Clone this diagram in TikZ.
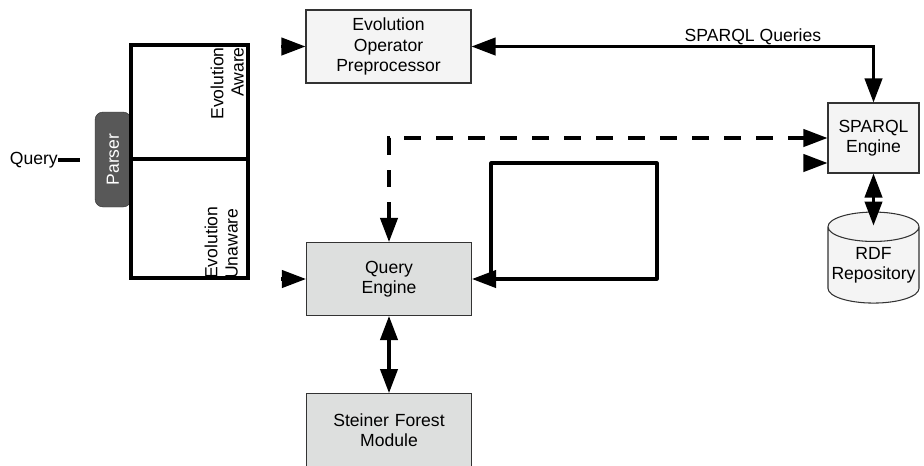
\documentclass[tikz,border=0pt]{standalone}
\usepackage{fontspec}
\setmainfont{Liberation Sans}
\usetikzlibrary{arrows.meta, positioning, calc, shapes.geometric}

\definecolor{boxlight}{HTML}{F4F4F4}
\definecolor{boxgray}{HTML}{DDDFDE}
\definecolor{parsergray}{HTML}{585858}
\definecolor{edgegray}{HTML}{333333}

\begin{document}
\begin{tikzpicture}[x=0.03cm, y=-0.03cm, font=\fontsize{15}{17.3}\selectfont]
		\tikzstyle{module} = [rectangle, draw=edgegray, line width=0.9pt, minimum width=4.95cm, minimum height=2.19cm, text width=4.5cm, inner sep=0, align=center]
		\tikzstyle{engine} = [rectangle, draw=edgegray, line width=0.9pt, fill=boxlight, minimum width=2.73cm, minimum height=2.1cm, inner sep=0, align=center]
		\tikzstyle{bracket} = [rectangle, draw=black, line width=2.6pt, minimum width=3.51cm, inner sep=0]

		\tikzstyle{thick_line} = [line width=2.6pt]
		\tikzstyle{directed_line} = [-{Triangle[length=7.2mm, width=5.2mm]}, line width=2.6pt]
		\tikzstyle{bydirec_line} = [{Triangle[length=7.2mm, width=5.2mm]}-{Triangle[length=7.2mm, width=5.2mm]}, line width=2.6pt]
		\tikzstyle{dashed_line} = [bydirec_line, dash pattern=on 5.1mm off 4.5mm]

		\useasboundingbox (0,0) rectangle (924,465);

		% Query and parser
		\node[anchor=east, inner sep=0](query) at (58,160) {Query};
		\coordinate (query_end) at (80,160);
		\draw[thick_line] (query.east) -- (query_end);

		\node[rotate=90, rectangle, rounded corners=2.4mm, draw=edgegray, fill=parsergray, text=white, minimum width=2.85cm, minimum height=1.08cm, inner sep=0](parser) at (113,159.5) {Parser};

		% Evolution aware / unaware
		\node[bracket, minimum height=3.42cm](aware_box) at (189.5,102) {};
		\node[bracket, minimum height=3.57cm](unaware_box) at (189.5,218.5) {};
		\node[rotate=90, anchor=south east, align=right, inner sep=0](aware_label) at (244,47) {Evolution\\Aware};
		\node[rotate=90, anchor=south west, align=left, inner sep=0](unaware_label) at (238,279) {Evolution\\Unaware};

		% Modules
		\node[module, fill=boxlight](evo_op) at (388.5,46.5) {Evolution\\Operator\\Preprocessor};
		\node[module, fill=boxgray](query_engine) at (389,279) {Query\\Engine};
		\node[module, fill=boxgray, below=2.31cm of query_engine](steiner) {Steiner Forest\\Module};

		% SPARQL side
		\node[engine](sparql_engine) at (873.5,138) {SPARQL\\Engine};
		\node[cylinder, shape border rotate=90, aspect=0.35, draw=edgegray, line width=0.9pt, fill=boxlight, minimum width=2.73cm, minimum height=2.73cm, inner sep=0, align=center, below=1.14cm of sparql_engine](rdf_repo) {RDF\\Repository};

		% Arrow tips entering the modules
		\coordinate (aware_tip) at (281,46.5);
		\coordinate (unaware_tip) at (281,279);
		\coordinate (loop_tip) at (804,163);
		\draw[directed_line] (aware_tip) -- (evo_op.west);
		\draw[directed_line] (unaware_tip) -- (query_engine.west);
		\draw[directed_line] (loop_tip) -- (loop_tip -| sparql_engine.west);

		% SPARQL queries
		\draw[bydirec_line] (evo_op.east) -| (sparql_engine.north) node[pos=0.35, above=0pt, inner sep=0]{SPARQL Queries};
		\draw[dashed_line] (query_engine.north) |- (sparql_engine.west);
		\draw[bydirec_line] (sparql_engine.south) -- ($(rdf_repo.north)+(0,14)$);

		% Query engine loop
		\coordinate (loop_nw) at (491,163);
		\coordinate (loop_se) at (657,279);
		\draw[directed_line, line join=round] (loop_nw |- loop_se) -- (loop_nw) -| (loop_se) -- (query_engine.east);

		\draw[bydirec_line] (query_engine.south) -- (steiner.north);

	\end{tikzpicture}
\end{document}
